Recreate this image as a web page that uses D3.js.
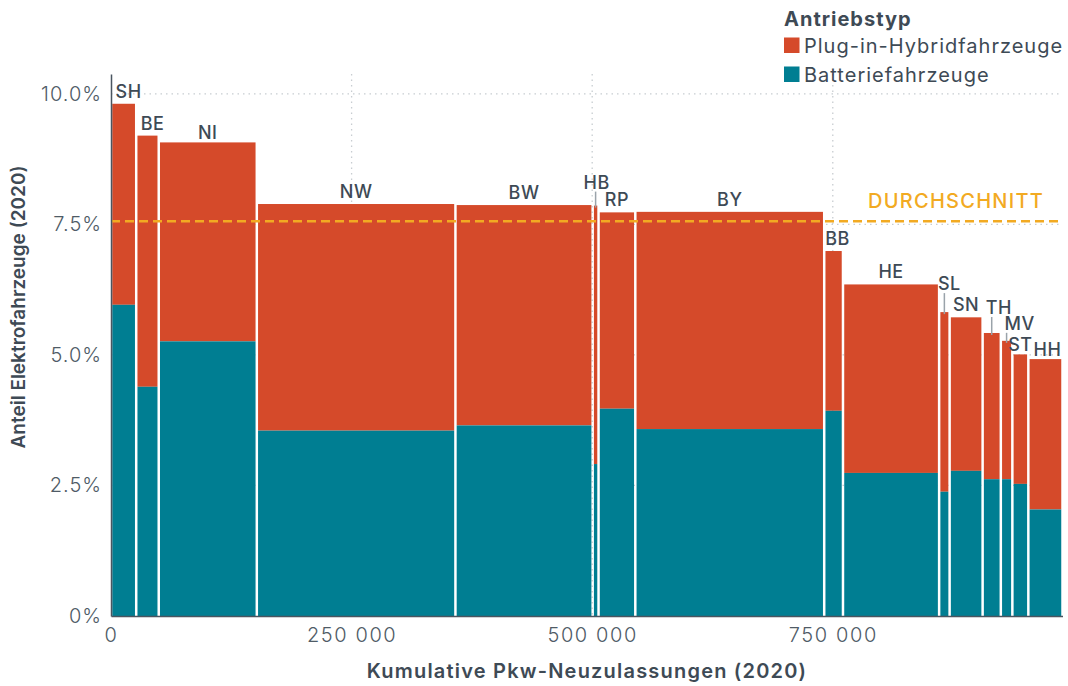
<!DOCTYPE html>
<html>
<head>
<meta charset="utf-8">
<script src="https://cdn.jsdelivr.net/npm/d3@7"></script>
<style>
  body { margin: 0; background: #fff; }
  svg { display: block; font-family: "Inter", "Noto Sans", sans-serif; }
</style>
</head>
<body>
<div id="chart"></div>
<script>
// Bundesländer in Reihenfolge der Balken
const states = ["SH", "BE", "NI", "NW", "BW", "HB", "RP", "BY", "BB", "HE", "SL", "SN", "TH", "MV", "ST", "HH"];
// Pkw-Neuzulassungen 2020 (Breite der Balken)
const registrations = [26200, 23400, 101900, 206400, 142600, 6100, 38200, 196300, 19500, 99900, 10900, 34300, 18900, 12000, 16600, 35500];
// Anteil Batteriefahrzeuge in %
const bevShare = [5.96, 4.39, 5.26, 3.55, 3.65, 2.91, 3.97, 3.58, 3.93, 2.74, 2.38, 2.78, 2.62, 2.62, 2.53, 2.04];
// Anteil Plug-in-Hybride in %
const phevShare = [3.85, 4.81, 3.81, 4.34, 4.22, 4.95, 3.76, 4.16, 3.06, 3.61, 3.44, 2.94, 2.80, 2.65, 2.48, 2.88];
const average = 7.56;
const yTicks = [0, 2.5, 5, 7.5, 10];
const xTicks = [0, 250000, 500000, 750000];

// Verschiebungen einzelner Beschriftungen
const labelNudge = {
  SH: { dx: 5 }, BE: { dx: 5 }, BB: { dx: 4 },
  HB: { dx: 1, dy: -17, leader: true },
  SL: { dx: 5, dy: -22, leader: true },
  TH: { dx: 7, dy: -19, leader: true },
  MV: { dx: 13, dy: -11, leader: true },
  NI: { dy: -3 }, ST: { dy: -3 }, HH: { dx: 2, dy: -3 }
};

const colBev = "#007e92", colPhev = "#d54a2a", colText = "#3e4a55", colAvg = "#f2aa22";

const W = 1068, H = 686;
const svg = d3.select("#chart").append("svg").attr("width", W).attr("height", H);

// kumulative Positionen
let cum = 0;
const data = states.map((s, i) => {
  const d = { state: s, x0: cum, x1: cum + registrations[i], bev: bevShare[i], total: bevShare[i] + phevShare[i] };
  cum += registrations[i];
  return d;
});

const x = d3.scaleLinear().domain([0, cum]).range([111, 1062.5]);
const y = d3.scaleLinear().domain([0, 10.38]).range([616, 74]);

// Gitterlinien
const grid = svg.append("g").attr("stroke", "#c8cdd1").attr("stroke-width", 1.3).attr("stroke-dasharray", "1.5,4");
grid.selectAll(".hg").data(yTicks.slice(1)).enter().append("line")
  .attr("x1", x(0)).attr("x2", x(cum)).attr("y1", d => y(d)).attr("y2", d => y(d));
grid.selectAll(".vg").data(xTicks.slice(1)).enter().append("line")
  .attr("x1", d => x(d)).attr("x2", d => x(d)).attr("y1", y(10.38)).attr("y2", y(0));

// Balken
const pad = 1.25;
const bars = svg.append("g");
bars.selectAll(".phev").data(data).enter().append("rect")
  .attr("x", d => x(d.x0) + pad).attr("width", d => x(d.x1) - x(d.x0) - 2 * pad)
  .attr("y", d => y(d.total)).attr("height", d => y(d.bev) - y(d.total))
  .attr("fill", colPhev);
bars.selectAll(".bev").data(data).enter().append("rect")
  .attr("x", d => x(d.x0) + pad).attr("width", d => x(d.x1) - x(d.x0) - 2 * pad)
  .attr("y", d => y(d.bev)).attr("height", d => y(0) - y(d.bev))
  .attr("fill", colBev);

// Durchschnitt
svg.append("line")
  .attr("x1", x(0)).attr("x2", x(cum)).attr("y1", y(average)).attr("y2", y(average))
  .attr("stroke", colAvg).attr("stroke-width", 2.5).attr("stroke-dasharray", "9,5");
svg.append("text")
  .attr("x", 1044).attr("y", y(average) - 13)
  .attr("text-anchor", "end").attr("fill", colAvg)
  .style("font-size", "20px").style("font-weight", 500).style("letter-spacing", "1.25px")
  .text("DURCHSCHNITT");

// Beschriftungen der Balken
const labels = svg.append("g").style("font-size", "18px").style("font-weight", 500)
  .style("letter-spacing", "0.5px").attr("fill", colText);
data.forEach(d => {
  const n = labelNudge[d.state] || {};
  const cx = (x(d.x0) + x(d.x1)) / 2;
  const top = y(d.total);
  const ly = top + (n.dy !== undefined ? n.dy : -6);
  labels.append("text")
    .attr("x", cx + (n.dx || 0)).attr("y", ly)
    .attr("text-anchor", "middle")
    .text(d.state);
  if (n.leader) {
    svg.append("line")
      .attr("x1", cx).attr("x2", cx).attr("y1", ly + 3).attr("y2", top + 2)
      .attr("stroke", "#9aa3aa").attr("stroke-width", 1.5);
  }
});

// Achsen
const yAxis = svg.append("g").attr("transform", `translate(${x(0)},0)`)
  .call(d3.axisLeft(y).tickValues(yTicks).tickSize(0).tickPadding(9)
    .tickFormat(d => d === 0 ? "0%" : d3.format(".1f")(d) + "%"));
yAxis.select(".domain").attr("stroke", "#4a5560").attr("stroke-width", 1.5);
yAxis.selectAll("text").style("font-size", "20px").style("font-weight", 300)
  .style("letter-spacing", "1px")
  .attr("fill", "#4f5b66").style("font-family", "Inter, sans-serif");

const xAxis = svg.append("g").attr("transform", `translate(0,${y(0)})`)
  .call(d3.axisBottom(x).tickValues(xTicks).tickSize(0).tickPadding(12)
    .tickFormat(d => d3.format(",")(d).replace(/,/g, " ")));
xAxis.select(".domain").attr("stroke", "#4a5560").attr("stroke-width", 1.5);
xAxis.selectAll("text").style("font-size", "20px").style("font-weight", 300)
  .style("letter-spacing", "1.6px")
  .attr("fill", "#4f5b66").style("font-family", "Inter, sans-serif");

// Achsentitel
svg.append("text")
  .attr("transform", "translate(25,307) rotate(-90)")
  .attr("text-anchor", "middle").attr("fill", colText)
  .style("font-size", "19px").style("font-weight", 600)
  .text("Anteil Elektrofahrzeuge (2020)");
svg.append("text")
  .attr("x", 587).attr("y", 678)
  .attr("text-anchor", "middle").attr("fill", colText)
  .style("font-size", "20px").style("font-weight", 600).style("letter-spacing", "1.2px")
  .text("Kumulative Pkw-Neuzulassungen (2020)");

// Legende
const legend = svg.append("g").attr("transform", "translate(784,0)");
legend.append("text").attr("x", 0).attr("y", 26).attr("fill", colText)
  .style("font-size", "20px").style("font-weight", 700).style("letter-spacing", "1px")
  .text("Antriebstyp");
const legendItems = [["Plug-in-Hybridfahrzeuge", colPhev], ["Batteriefahrzeuge", colBev]];
legendItems.forEach(([label, c], i) => {
  legend.append("rect").attr("x", 0).attr("y", 37.5 + i * 29).attr("width", 15.5).attr("height", 15.5).attr("fill", c);
  legend.append("text").attr("x", 20).attr("y", 53 + i * 29).attr("fill", colText)
    .style("font-size", "20px").style("font-weight", 400).style("letter-spacing", "1px")
    .text(label);
});
</script>
</body>
</html>
